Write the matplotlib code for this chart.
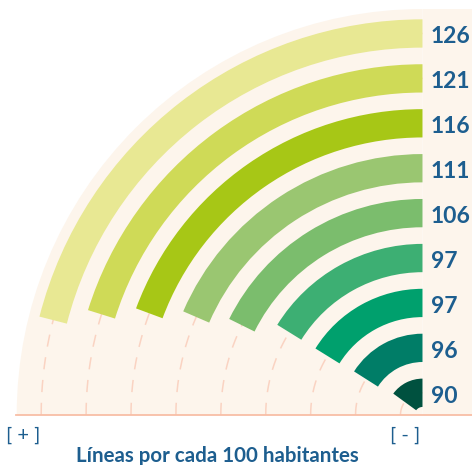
import numpy as np
import matplotlib.pyplot as plt
from matplotlib.patches import Rectangle
from matplotlib.lines import Line2D

# lines per 100 inhabitants, outermost ring first
values = [126, 121, 116, 111, 106, 97, 97, 96, 90]
colors = ["#e8e893", "#cfda57", "#a7c716", "#9ac671", "#7bbd6d",
          "#3daf73", "#00a06d", "#007d67", "#00513f"]
value_max = 150          # value that would fill the whole quarter
title = "Líneas por cada 100 habitantes"

cream = "#fdf5ec"
salmon = "#f8bea6"
dash_col = "#fad3c2"
blue = "#1d5e8f"
font = "Lato"

W, H = 472, 465
fig = plt.figure(figsize=(W / 100, H / 100), dpi=100)

# quarter disk: origin at the bottom right, radius in ring units
R = 9.04
cx, cy, rpx = 422.7, 50, 406
ax = fig.add_axes([(cx - rpx) / W, cy / H, rpx / W, rpx / H], projection="polar")
ax.set_theta_zero_location("N")
ax.set_theta_direction(1)
ax.set_thetamin(0)
ax.set_thetamax(90)
ax.set_rlim(0, R)
ax.set_facecolor(cream)
ax.grid(False)
ax.set_xticks([])
ax.set_yticks([])
# polar draw() turns start/end spines back on, so blank them instead
for s in ax.spines.values():
    s.set_edgecolor("none")
    s.set_linewidth(0)

# cream strip behind the value labels
fig.patches.append(Rectangle((cx / W, cy / H), 1 - cx / W, rpx / H,
                             transform=fig.transFigure, facecolor=cream,
                             edgecolor="none", zorder=-1))

n = len(values)
ring_w = 0.63
for k, (v, c) in enumerate(zip(values, colors)):
    i = n - 1 - k
    inner = 0.18 + i
    mid = inner + ring_w / 2
    th = np.linspace(np.pi / 2, 0, 300)
    ax.plot(th, np.full_like(th, mid), color=dash_col, lw=1.1,
            dashes=(8, 7), zorder=1)
    ax.bar(0, ring_w, width=np.deg2rad(90 * v / value_max), bottom=inner,
           align="edge", color=c, edgecolor="none", linewidth=0, zorder=2)
    ax.annotate(str(v), xy=(0, mid), xytext=(6, -2.5), textcoords="offset points",
                ha="left", va="center", fontsize=16.5, fontweight="bold",
                family=font, color=blue, annotation_clip=False)

# baseline
fig.lines.append(Line2D([16 / W, 1], [cy / H, cy / H], transform=fig.transFigure,
                        color=salmon, lw=1.3))

fig.text(23.5 / W, 1 - 435 / H, "[ + ]", ha="center", va="center",
         fontsize=14.5, family=font, color=blue)
fig.text(405 / W, 1 - 435 / H, "[ - ]", ha="center", va="center",
         fontsize=14.5, family=font, color=blue)
fig.text(217 / W, 1 - 461.7 / H, title, ha="center", va="baseline",
         fontsize=14.8, family=font, fontweight="bold", color=blue)

fig.savefig("out.png", dpi=100)
